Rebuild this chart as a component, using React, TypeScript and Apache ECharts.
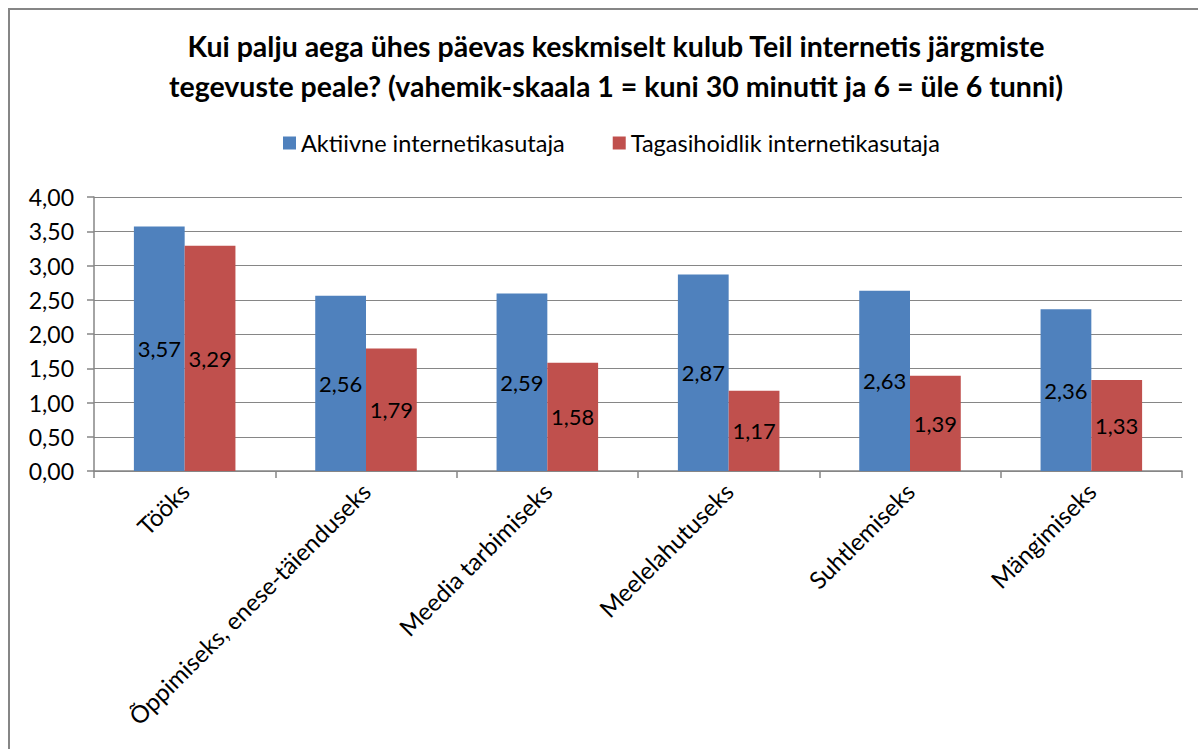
import React, { useEffect, useRef } from "react";
import * as echarts from "echarts";

const titleText =
  "Kui palju aega ühes päevas keskmiselt kulub Teil internetis järgmiste\ntegevuste peale? (vahemik-skaala 1 = kuni 30 minutit ja 6 = üle 6 tunni)";
const categories = [
  "Tööks",
  "Õppimiseks, enese-täienduseks",
  "Meedia tarbimiseks",
  "Meelelahutuseks",
  "Suhtlemiseks",
  "Mängimiseks",
];
const seriesNames = ["Aktiivne internetikasutaja", "Tagasihoidlik internetikasutaja"];
const activeValues = [3.57, 2.56, 2.59, 2.87, 2.63, 2.36];
const modestValues = [3.29, 1.79, 1.58, 1.17, 1.39, 1.33];
const colors = ["#4F81BD", "#C0504D"];

const FONT = "Lato, 'Open Sans', sans-serif";
const fmt = (v: number) => v.toFixed(2).replace(".", ",");

export default function App() {
  const ref = useRef<HTMLDivElement>(null);
  useEffect(() => {
    const chart = echarts.init(ref.current!, null, { renderer: "svg" });
    const labelCfg = {
      show: true,
      position: "inside",
      color: "#000",
      fontSize: 22,
      fontFamily: FONT,
      formatter: (p: any) => fmt(p.value),
    };
    chart.setOption({
      animation: false,
      textStyle: { fontFamily: FONT },
      title: {
        text: titleText,
        left: 611,
        textAlign: "center",
        top: 21,
        textStyle: {
          fontFamily: FONT,
          fontSize: 28.5,
          fontWeight: "bold",
          color: "#000",
          lineHeight: 40,
        },
      },
      legend: {
        data: seriesNames,
        top: 126,
        left: 278,
        itemWidth: 13,
        itemHeight: 13,
        itemGap: 48,
        icon: "rect",
        textStyle: { fontFamily: FONT, fontSize: 23.5, color: "#000" },
      },
      grid: { left: 94, right: 16, top: 197, bottom: 278, containLabel: false },
      xAxis: {
        type: "category",
        data: categories,
        axisLine: { lineStyle: { color: "#868686", width: 1.5 } },
        axisTick: { show: true, length: 7, lineStyle: { color: "#868686", width: 1.5 } },
        axisLabel: {
          interval: 0,
          rotate: 45,
          fontSize: 24,
          fontFamily: FONT,
          color: "#000",
          margin: 16,
        },
      },
      yAxis: {
        type: "value",
        min: 0,
        max: 4,
        interval: 0.5,
        axisLine: { show: true, lineStyle: { color: "#868686", width: 1.5 } },
        axisTick: { show: true, length: 7, lineStyle: { color: "#868686", width: 1.5 } },
        splitLine: { lineStyle: { color: "#868686", width: 1.2 } },
        axisLabel: {
          fontSize: 23,
          fontFamily: FONT,
          color: "#000",
          margin: 20,
          formatter: (v: number) => fmt(v),
        },
      },
      series: [
        {
          name: seriesNames[0],
          type: "bar",
          data: activeValues,
          itemStyle: { color: colors[0] },
          barGap: "0%",
          barCategoryGap: "44%",
          label: labelCfg,
        },
        {
          name: seriesNames[1],
          type: "bar",
          data: modestValues,
          itemStyle: { color: colors[1] },
          barGap: "0%",
          barCategoryGap: "44%",
          label: labelCfg,
        },
      ],
      graphic: [
        {
          type: "rect",
          shape: { x: 9, y: 9, width: 1250, height: 800 },
          style: { fill: "none", stroke: "#868686", lineWidth: 2 },
          silent: true,
        },
      ],
    });
    return () => chart.dispose();
  }, []);
  return (
    <div
      ref={ref}
      style={{ position: "fixed", left: 0, top: 0, width: 1198, height: 749, background: "#fff" }}
    />
  );
}
